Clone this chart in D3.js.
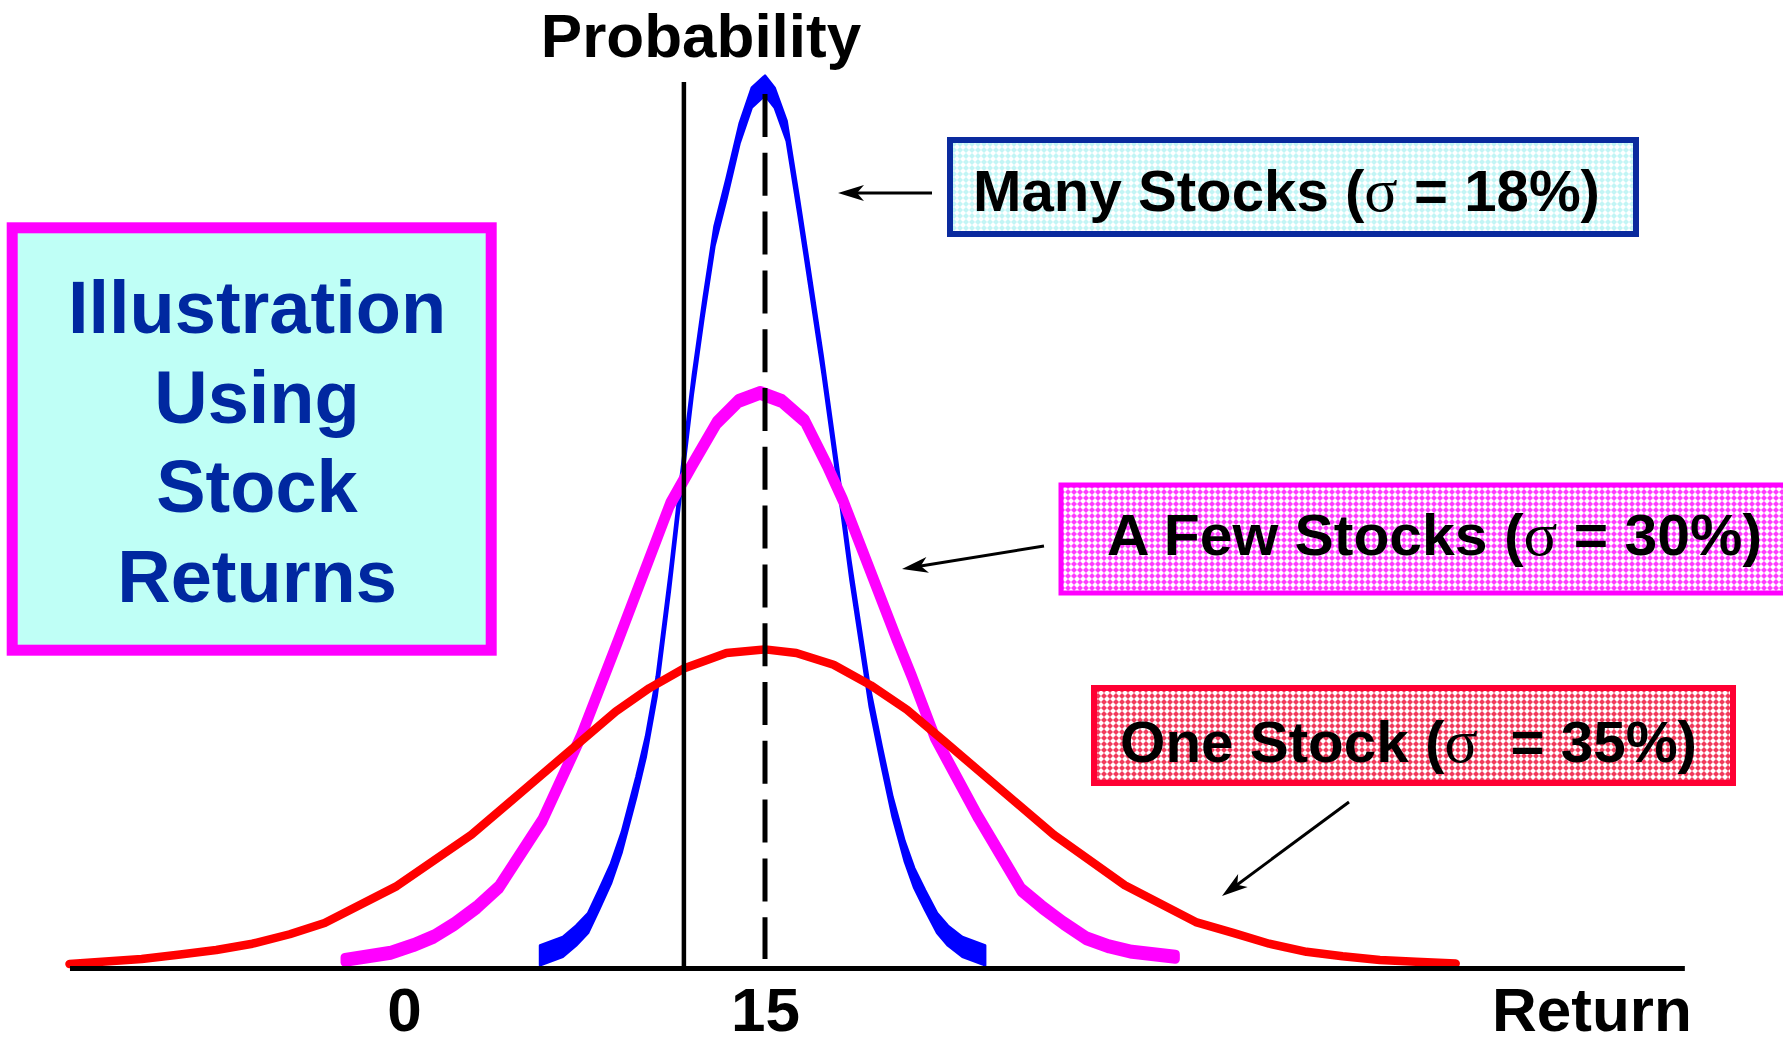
<!DOCTYPE html>
<html>
<head>
<meta charset="utf-8">
<script src="https://cdn.jsdelivr.net/npm/d3@7"></script>
<style>
  html, body { margin: 0; padding: 0; background: #ffffff; }
  svg { display: block; }
</style>
</head>
<body>
<script>
// ---- Distributions of return: x = return (%), y = probability height ----
const oneStockReturn = [-13.9, -10.9, -9.3, -7.8, -6.3, -4.75, -3.3, -0.3, 2.8, 8.8, 10.2, 11.65, 13.4, 15.0,
  16.3, 17.85, 19.4, 20.9, 22.4, 27.0, 29.95, 32.9, 34.45, 35.95, 37.5, 39.0, 40.55, 42.05, 43.7];
const oneStockProb = [0.45, 1.0, 1.5, 2.0, 2.7, 3.75, 5.0, 9.1, 14.8, 28.5, 31.1, 33.3, 35.0, 35.4,
  35.0, 33.7, 31.4, 28.7, 25.3, 14.8, 9.2, 5.1, 3.9, 2.7, 1.8, 1.3, 0.9, 0.7, 0.5];

const fewStocksReturn = [-2.45, -0.55, 0.4, 1.25, 2.1, 3.05, 3.95, 5.75, 7.35, 8.9, 11.05, 12.0, 13.0, 13.9, 14.8,
  15.7, 16.65, 17.55, 18.25, 20.45, 21.1, 22.05, 23.85, 25.65, 26.5, 27.4, 28.35, 29.3, 30.25, 32.05];
const fewStocksProb = [0.9, 1.7, 2.55, 3.5, 4.9, 6.8, 9.0, 16.4, 25.7, 36.4, 51.5, 56.0, 60.6, 63.0, 63.9,
  63.0, 60.8, 56.0, 51.9, 36.7, 32.4, 25.7, 16.8, 8.7, 6.8, 5.0, 3.3, 2.4, 1.8, 1.25];

const manyStocksReturn = [5.65, 6.6, 7.15, 7.65, 8.1, 8.6, 9.05, 9.65, 10.05, 10.5, 11.05, 11.45, 12.0, 12.45,
  12.9, 13.4, 13.95, 14.45, 15.0, 15.4, 15.9, 16.4, 16.85, 17.4, 18.0, 18.55, 19.35, 19.85, 20.3, 20.8,
  21.2, 21.65, 22.15, 22.6, 23.2, 24.15];
const manyStocksProb = [1.4, 2.35, 3.6, 5.0, 7.55, 10.5, 14.0, 20.1, 24.6, 31.3, 43.0, 52.4, 64.8, 73.4,
  81.3, 86.6, 92.8, 96.7, 98.05, 96.7, 93.0, 84.6, 76.7, 66.9, 55.3, 44.2, 30.1, 23.5, 17.9, 13.0,
  10.0, 7.55, 5.0, 3.6, 2.35, 1.4];

// ---- Axis ----
const xTickValues = [0, 15];
const xTickLabels = ["0", "15"];
const returnExtent = [-13.9, 53.2];
const axisReturn = 11.63;   // solid vertical (probability) axis
const meanReturn = 15;      // dashed line through the common mean

// ---- Labels ----
const labelMany = { name: "Many Stocks (", sigma: "σ", rest: " = 18%)" };
const labelFew  = { name: "A Few Stocks (", sigma: "σ", rest: " = 30%)" };
const labelOne  = { name: "One Stock (", sigma: "σ", rest: "  = 35%)" };
const titleLines = ["Illustration", "Using", "Stock", "Returns"];

const W = 1783, H = 1044;
const FONT = "'Liberation Sans', Arial, Helvetica, sans-serif";

const svg = d3.select("body").append("svg").attr("width", W).attr("height", H);
const defs = svg.append("defs");

const x = d3.scaleLinear().domain([0, 15]).range([404, 765]);
const y = d3.scaleLinear().domain([0, 100]).range([968, 68]);

const zip = (xs, ys) => xs.map((r, i) => ({ r, p: ys[i] }));

// ---- Fill patterns for the labelled boxes ----
function checker(id, bg, fg) {
  const p = defs.append("pattern").attr("id", id)
    .attr("width", 6).attr("height", 6).attr("patternUnits", "userSpaceOnUse");
  p.append("rect").attr("width", 6).attr("height", 6).attr("fill", bg);
  p.append("path").attr("d", "M3,0 L6,3 L3,6 L0,3 Z").attr("fill", fg);
}
checker("fillMany", "#c2f5f5", "#ffffff");
checker("fillFew", "#ff3cff", "#ffffff");
checker("fillOne", "#f23a5c", "#ffffff");

// Arrow head
defs.append("marker").attr("id", "arrowHead")
  .attr("viewBox", "-27 -9 28 18").attr("refX", -8).attr("refY", 0)
  .attr("markerWidth", 28).attr("markerHeight", 18)
  .attr("markerUnits", "userSpaceOnUse").attr("orient", "auto")
  .append("path").attr("d", "M0,0 L-26,-8 L-19,0 L-26,8 Z").attr("fill", "#000");

// ---- Curves ----
const line = d3.line().x(d => x(d.r)).y(d => y(d.p)).curve(d3.curveLinear);

// Many stocks: a blue band of constant height
const manyBand = d3.area().x(d => x(d.r)).y0(d => y(d.p) + 10).y1(d => y(d.p) - 10).curve(d3.curveLinear);
svg.append("path").datum(zip(manyStocksReturn, manyStocksProb))
  .attr("d", manyBand).attr("fill", "#0000ff")
  .attr("stroke", "#0000ff").attr("stroke-width", 2.4).attr("stroke-linejoin", "round");

// A few stocks: magenta
const fewBand = d3.area().x(d => x(d.r)).y0(d => y(d.p) + 2.5).y1(d => y(d.p) - 2.5).curve(d3.curveLinear);
svg.append("path").datum(zip(fewStocksReturn, fewStocksProb))
  .attr("d", fewBand).attr("fill", "#ff00ff")
  .attr("stroke", "#ff00ff").attr("stroke-width", 9).attr("stroke-linejoin", "round");

// One stock: red
svg.append("path").datum(zip(oneStockReturn, oneStockProb))
  .attr("d", line).attr("fill", "none")
  .attr("stroke", "#ff0000").attr("stroke-width", 8.5)
  .attr("stroke-linecap", "round").attr("stroke-linejoin", "round");

// ---- Reference lines ----
svg.append("line")
  .attr("x1", x(axisReturn)).attr("x2", x(axisReturn))
  .attr("y1", 82).attr("y2", y(0))
  .attr("stroke", "#000").attr("stroke-width", 4.5);

svg.append("line")
  .attr("x1", x(meanReturn)).attr("x2", x(meanReturn))
  .attr("y1", 94).attr("y2", 959)
  .attr("stroke", "#000").attr("stroke-width", 5)
  .attr("stroke-dasharray", "43,15.8");

// ---- Return axis ----
const xAxisScale = x.copy().domain(returnExtent).range(returnExtent.map(x));
const axisG = svg.append("g").attr("transform", `translate(0,${y(0)})`)
  .call(d3.axisBottom(xAxisScale).tickValues(xTickValues)
    .tickFormat((d, i) => xTickLabels[i]).tickSize(0).tickSizeOuter(0));
axisG.select(".domain").attr("stroke", "#000").attr("stroke-width", 5);
axisG.selectAll(".tick text")
  .attr("y", 63).attr("dy", null)
  .attr("font-family", FONT).attr("font-weight", "bold").attr("font-size", 62).attr("fill", "#000");

svg.append("text").text("Return")
  .attr("x", 1492).attr("y", 1031)
  .attr("font-family", FONT).attr("font-weight", "bold").attr("font-size", 62).attr("fill", "#000");

svg.append("text").text("Probability")
  .attr("x", 701).attr("y", 57).attr("text-anchor", "middle")
  .attr("font-family", FONT).attr("font-weight", "bold").attr("font-size", 62).attr("fill", "#000");

// ---- Title box ----
svg.append("rect")
  .attr("x", 12.2).attr("y", 227.8).attr("width", 479).attr("height", 422.4)
  .attr("fill", "#bffff6").attr("stroke", "#ff00ff").attr("stroke-width", 11);
svg.append("g").selectAll("text").data(titleLines).join("text")
  .text(d => d)
  .attr("x", 257).attr("y", (d, i) => 333 + i * 89.5)
  .attr("text-anchor", "middle")
  .attr("font-family", FONT).attr("font-weight", "bold").attr("font-size", 74)
  .attr("fill", "#0028a0");

// ---- Labelled boxes ----
function labelBox(b) {
  svg.append("rect")
    .attr("x", b.x).attr("y", b.y).attr("width", b.w).attr("height", b.h)
    .attr("fill", `url(#${b.fill})`).attr("stroke", b.stroke).attr("stroke-width", b.sw);
  const t = svg.append("text")
    .attr("x", b.tx).attr("y", b.ty)
    .attr("textLength", b.tl).attr("lengthAdjust", "spacingAndGlyphs")
    .attr("font-family", FONT).attr("font-weight", "bold").attr("font-size", 58).attr("fill", "#000")
    .attr("xml:space", "preserve").style("white-space", "pre");
  t.append("tspan").text(b.label.name);
  t.append("tspan").text(b.label.sigma)
    .attr("font-family", "'Liberation Serif', 'Times New Roman', serif").attr("font-weight", "normal")
    .attr("font-size", 62);
  t.append("tspan").text(b.label.rest);
}
labelBox({ x: 950, y: 140, w: 686, h: 94, fill: "fillMany", stroke: "#0a2a9e", sw: 6,
  tx: 973, ty: 211, tl: 627, label: labelMany });
labelBox({ x: 1061, y: 485, w: 800, h: 108, fill: "fillFew", stroke: "#ff00ff", sw: 5,
  tx: 1107, ty: 555, tl: 655, label: labelFew });
labelBox({ x: 1094, y: 688, w: 639, h: 95, fill: "fillOne", stroke: "#ff0033", sw: 6,
  tx: 1120, ty: 762, tl: 577, label: labelOne });

// ---- Arrows pointing at each curve ----
const arrows = [
  { from: [932, 193], to: [838, 193] },
  { from: [1044, 546], to: [902, 569] },
  { from: [1349, 802], to: [1222, 896] }
];
arrows.forEach(a => {
  const dx = a.to[0] - a.from[0], dy = a.to[1] - a.from[1];
  const len = Math.hypot(dx, dy);
  const ex = a.to[0] - dx / len * 8, ey = a.to[1] - dy / len * 8;
  svg.append("line")
    .attr("x1", a.from[0]).attr("y1", a.from[1]).attr("x2", ex).attr("y2", ey)
    .attr("stroke", "#000").attr("stroke-width", 3)
    .attr("marker-end", "url(#arrowHead)");
});
</script>
</body>
</html>
